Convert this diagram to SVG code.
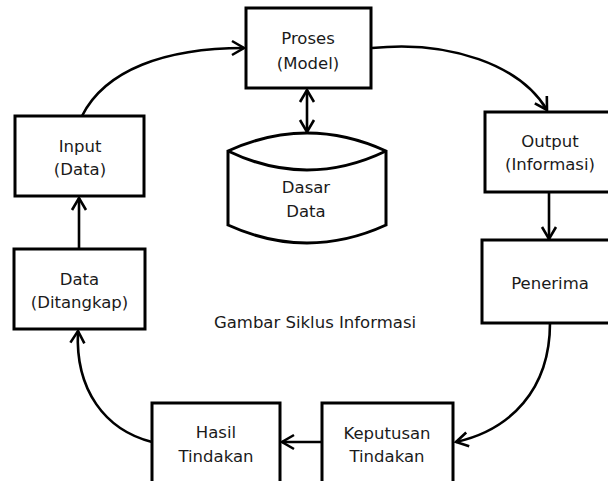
<svg xmlns="http://www.w3.org/2000/svg" width="608" height="481" viewBox="0 0 608 481">
<style>
.box{fill:#fff;stroke:#000;stroke-width:3}
.t{font-family:"DejaVu Sans",Verdana,sans-serif;font-size:16.5px;fill:#1a1a1a;text-anchor:middle}
.c{fill:none;stroke:#000;stroke-width:2.6}
</style>
<defs>
<marker id="a" markerUnits="userSpaceOnUse" markerWidth="20" markerHeight="20" viewBox="-14 -10 16 20" refX="0" refY="0" orient="auto-start-reverse">
<path d="M-12,-7 L0,0 L-12,7" fill="none" stroke="#000" stroke-width="2.6" stroke-linejoin="miter"/>
</marker>
</defs>
<rect width="608" height="481" fill="#fff"/>
<g id="connectors">
<path class="c" d="M82,116 C105,70 165,48 244,48" marker-end="url(#a)"/>
<path class="c" d="M372,48 C450,40 520,65 547,110" marker-end="url(#a)"/>
<path class="c" d="M549,192 L549,239" marker-end="url(#a)"/>
<path class="c" d="M550,323 C550,390 510,430 456,442" marker-end="url(#a)"/>
<path class="c" d="M322,442 L282,442" marker-end="url(#a)"/>
<path class="c" d="M152,442 C105,430 75,390 78,331" marker-end="url(#a)"/>
<path class="c" d="M79,249 L79,198" marker-end="url(#a)"/>
<path class="c" d="M307,90 L307,132" marker-start="url(#a)" marker-end="url(#a)"/>
</g>
<g id="proses">
<rect class="box" x="246" y="8" width="125" height="80"/>
<text class="t" x="308" y="44">Proses</text>
<text class="t" x="308" y="69">(Model)</text>
</g>
<g id="input">
<rect class="box" x="15" y="116" width="129" height="80"/>
<text class="t" x="80" y="152">Input</text>
<text class="t" x="80" y="175">(Data)</text>
</g>
<g id="output">
<rect class="box" x="485" y="112" width="128" height="80"/>
<text class="t" x="550" y="147">Output</text>
<text class="t" x="550" y="170">(Informasi)</text>
</g>
<g id="penerima">
<rect class="box" x="482" y="240" width="131" height="83"/>
<text class="t" x="550" y="289">Penerima</text>
</g>
<g id="data-ditangkap">
<rect class="box" x="14" y="249" width="131" height="80"/>
<text class="t" x="79.5" y="285">Data</text>
<text class="t" x="79.5" y="308">(Ditangkap)</text>
</g>
<g id="hasil">
<rect class="box" x="152" y="403" width="128" height="85"/>
<text class="t" x="216" y="438">Hasil</text>
<text class="t" x="216" y="462">Tindakan</text>
</g>
<g id="keputusan">
<rect class="box" x="322" y="403" width="131" height="85"/>
<text class="t" x="387" y="439">Keputusan</text>
<text class="t" x="387" y="462">Tindakan</text>
</g>
<g id="dasar-data">
<path class="box" d="M228,151 Q307,115 386,151 L386,225 Q307,261 228,225 Z"/>
<path class="c" style="stroke-width:3" d="M228,151 Q307,189 386,151"/>
<text class="t" x="306" y="193">Dasar</text>
<text class="t" x="306" y="217">Data</text>
</g>
<g id="caption">
<text class="t" x="315" y="328">Gambar Siklus Informasi</text>
</g>
</svg>
